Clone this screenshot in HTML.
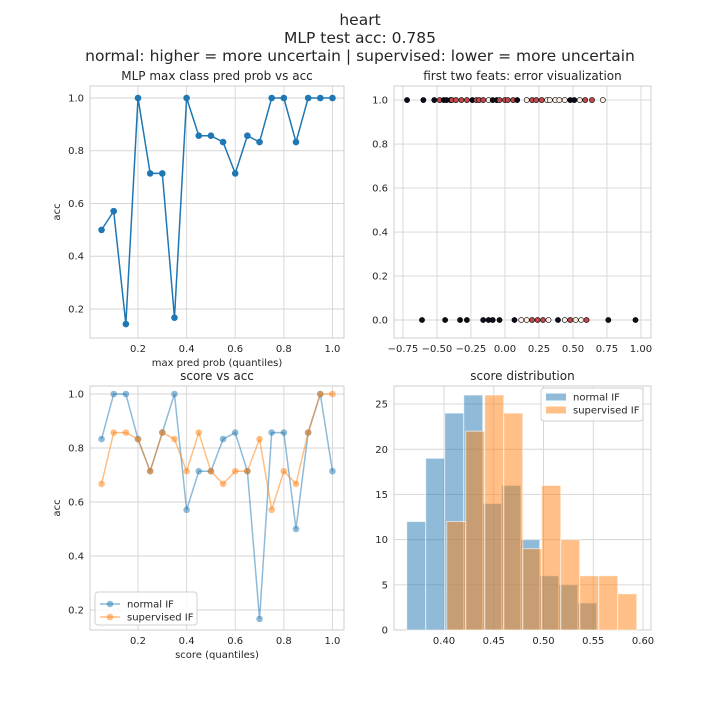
<!DOCTYPE html>
<html><head><meta charset="utf-8"><style>
body{margin:0;background:#fff;font-family:"Liberation Sans","DejaVu Sans",sans-serif;}
svg text{font-family:"DejaVu Sans","Liberation Sans",sans-serif;fill:#262626;}
</style></head><body>
<svg id="fig" width="720" height="720" xmlns="http://www.w3.org/2000/svg">
<text x="360" y="25" text-anchor="middle" font-size="15.5">heart</text>
<text x="360" y="43" text-anchor="middle" font-size="15.5">MLP test acc: 0.785</text>
<text x="360" y="61" text-anchor="middle" font-size="15.5">normal: higher = more uncertain | supervised: lower = more uncertain</text>
</svg>
<script>
const quantX=[0.05,0.1,0.15,0.2,0.25,0.3,0.35,0.4,0.45,0.5,0.55,0.6,0.65,0.7,0.75,0.8,0.85,0.9,0.95,1.0];
const mlpAcc=[0.5,0.571,0.143,1.0,0.714,0.714,0.167,1.0,0.857,0.857,0.833,0.714,0.857,0.833,1.0,1.0,0.833,1.0,1.0,1.0];
const normalAcc=[0.833,1,1,0.833,0.714,0.857,1.0,0.571,0.714,0.714,0.833,0.857,0.714,0.167,0.857,0.857,0.5,0.857,1.0,0.714];
const supAcc=[0.667,0.857,0.857,0.833,0.714,0.857,0.833,0.714,0.857,0.714,0.667,0.714,0.714,0.833,0.571,0.714,0.667,0.857,1.0,1.0];
const errTopX=[-0.72,-0.60,-0.52,-0.48,-0.45,-0.43,-0.40,-0.39,-0.36,-0.32,-0.28,-0.24,-0.21,-0.19,-0.16,-0.12,-0.09,-0.06,-0.04,0.0,0.02,0.06,0.09,0.16,0.20,0.23,0.27,0.31,0.33,0.37,0.40,0.44,0.48,0.51,0.55,0.59,0.64,0.72];
const errTopC="bbbrbbbrrrrbrrrwbbrrrrbwrrrwwwwwbbwrrw";
const errBotX=[-0.61,-0.44,-0.33,-0.28,-0.16,-0.12,-0.09,-0.04,0.07,0.12,0.16,0.20,0.24,0.28,0.32,0.39,0.44,0.48,0.52,0.56,0.60,0.76,0.96];
const errBotC="bbbbbbbbbwwrrrwbwrwwrbb";
const normalEdges=[0.3625,0.3816,0.4007,0.4198,0.4389,0.458,0.4771,0.4962,0.5153,0.5344,0.5535];
const normalCounts=[12,19,24,26,14,16,10,6,5,3];
const supEdges=[0.4027,0.4218,0.4409,0.46,0.4791,0.4982,0.5173,0.5364,0.5555,0.5746,0.5937];
const supCounts=[12,22,26,24,9,16,10,6,6,4];
const ticksQ=[0.2,0.4,0.6,0.8,1.0], tickLabQ=["0.2","0.4","0.6","0.8","1.0"];
const ticksAcc=[0.2,0.4,0.6,0.8,1.0], tickLabAcc=["0.2","0.4","0.6","0.8","1.0"];
const ticksErrX=[-0.75,-0.5,-0.25,0,0.25,0.5,0.75,1.0], tickLabErrX=["−0.75","−0.50","−0.25","0.00","0.25","0.50","0.75","1.00"];
const ticksErrY=[0,0.2,0.4,0.6,0.8,1.0], tickLabErrY=["0.0","0.2","0.4","0.6","0.8","1.0"];
const ticksH=[0.40,0.45,0.50,0.55,0.60], tickLabH=["0.40","0.45","0.50","0.55","0.60"];
const ticksHY=[0,5,10,15,20,25], tickLabHY=["0","5","10","15","20","25"];

const NS="http://www.w3.org/2000/svg", svg=document.getElementById('fig');
function mk(tag,attrs,parent){const e=document.createElementNS(NS,tag);for(const k in attrs)e.setAttribute(k,attrs[k]);(parent||svg).appendChild(e);return e;}
function axes(name,L,T,R,B,xmin,xmax,ymin,ymax,xt,xl,yt,yl,title,xlabel,ylabel){
  const g=mk('g',{});
  
  
  const sx=v=>L+(v-xmin)/(xmax-xmin)*(R-L), sy=v=>B-(v-ymin)/(ymax-ymin)*(B-T);
  xt.forEach((v,i)=>{mk('line',{x1:sx(v),x2:sx(v),y1:T,y2:B,stroke:'#d5d5d5','stroke-width':0.9},g);
    const t=mk('text',{x:sx(v),y:B+14,'text-anchor':'middle','font-size':10},g);t.textContent=xl[i];
    });
  yt.forEach((v,i)=>{mk('line',{x1:L,x2:R,y1:sy(v),y2:sy(v),stroke:'#d5d5d5','stroke-width':0.9},g);
    const t=mk('text',{x:L-6,y:sy(v)+3.5,'text-anchor':'end','font-size':10},g);t.textContent=yl[i];
    });
  const fr=mk('rect',{x:L,y:T,width:R-L,height:B-T,fill:'none',stroke:'#cfcfcf','stroke-width':1},g);
  
  const tt=mk('text',{x:(L+R)/2,y:T-6,'text-anchor':'middle','font-size':12},g);tt.textContent=title;
  
  if(xlabel){const t=mk('text',{x:(L+R)/2,y:B+28,'text-anchor':'middle','font-size':10},g);t.textContent=xlabel;
    }
  if(ylabel){const t=mk('text',{x:0,y:0,'text-anchor':'middle','font-size':10,transform:`translate(${L-30},${(T+B)/2}) rotate(-90)`},g);t.textContent=ylabel;
    }
  return {g,sx,sy};
}
function line(ax,xs,ys,color,op,name){
  const pts=xs.map((x,i)=>ax.sx(x)+','+ax.sy(ys[i])).join(' ');
  const pl=mk('polyline',{points:pts,fill:'none',stroke:color,'stroke-width':1.5,opacity:op},ax.g);
  
  xs.forEach((x,i)=>{const c=mk('circle',{cx:ax.sx(x),cy:ax.sy(ys[i]),r:3.3,fill:color,opacity:op},ax.g);
    });
}
// top-left
const a1=axes('mlp-prob-vs-acc-plot',90,86,344,338,0.0025,1.0475,0.090,1.0455,ticksQ,tickLabQ,ticksAcc,tickLabAcc,'MLP max class pred prob vs acc','max pred prob (quantiles)','acc');
line(a1,quantX,mlpAcc,'#1f77b4',1,'mlp-acc');
// top-right
const a2=axes('error-visualization-plot',394,86,651,338,-0.816,1.074,-0.0818,1.064,ticksErrX,tickLabErrX,ticksErrY,tickLabErrY,'first two feats: error visualization','','');
const cmap={b:'#0d0d1a',r:'#c0484c',w:'#fbeee6'};
function scat(xs,cs,y){xs.forEach((x,i)=>{const c=mk('circle',{cx:a2.sx(x),cy:a2.sy(y),r:2.6,fill:cmap[cs[i]],stroke:'#000','stroke-width':0.6},a2.g);
  });}
scat(errTopX,errTopC,1);scat(errBotX,errBotC,0);
// bottom-left
const a3=axes('score-vs-acc-plot',90,386,344,630,0.0025,1.0475,0.1259,1.0296,ticksQ,tickLabQ,ticksAcc,tickLabAcc,'score vs acc','score (quantiles)','acc');
line(a3,quantX,normalAcc,'#1f77b4',0.5,'normal-if');
line(a3,quantX,supAcc,'#ff7f0e',0.5,'supervised-if');
const lg=mk('g',{},a3.g);
mk('rect',{x:95,y:592,width:102,height:33,fill:'#fff',stroke:'#ccc',rx:3,opacity:0.9},lg);
[['normal IF','#1f77b4',604],['supervised IF','#ff7f0e',617]].forEach(([n,c,y])=>{
  const e=mk('g',{},lg);
  mk('line',{x1:100,x2:120,y1:y,y2:y,stroke:c,'stroke-width':1.5,opacity:0.5},e);
  mk('circle',{cx:110,cy:y,r:3.3,fill:c,opacity:0.5},e);
  const t=mk('text',{x:127,y:y+3.5,'font-size':10},e);t.textContent=n;});
// bottom-right
const a4=axes('score-distribution-plot',394,386,651,630,0.3497,0.608,0,27.0,ticksH,tickLabH,ticksHY,tickLabHY,'score distribution','','');
function hist(edges,counts,color,name){counts.forEach((c,i)=>{const x0=a4.sx(edges[i]),x1=a4.sx(edges[i+1]);
  const r=mk('rect',{x:x0,y:a4.sy(c),width:x1-x0,height:a4.sy(0)-a4.sy(c),fill:color,'fill-opacity':0.5,stroke:'#fff','stroke-opacity':0.6,'stroke-width':1},a4.g);
  });}
hist(normalEdges,normalCounts,'#1f77b4','normal-if');
hist(supEdges,supCounts,'#ff7f0e','supervised-if');
const lg2=mk('g',{},a4.g);
mk('rect',{x:541,y:388,width:102,height:33,fill:'#fff',stroke:'#ccc',rx:3,opacity:0.9},lg2);
[['normal IF','#1f77b4',397],['supervised IF','#ff7f0e',410]].forEach(([n,c,y])=>{
  const e=mk('g',{},lg2);
  mk('rect',{x:546,y:y-3.5,width:20,height:7,fill:c,'fill-opacity':0.5},e);
  const t=mk('text',{x:573,y:y+3.5,'font-size':10},e);t.textContent=n;});
</script>
</body></html>
